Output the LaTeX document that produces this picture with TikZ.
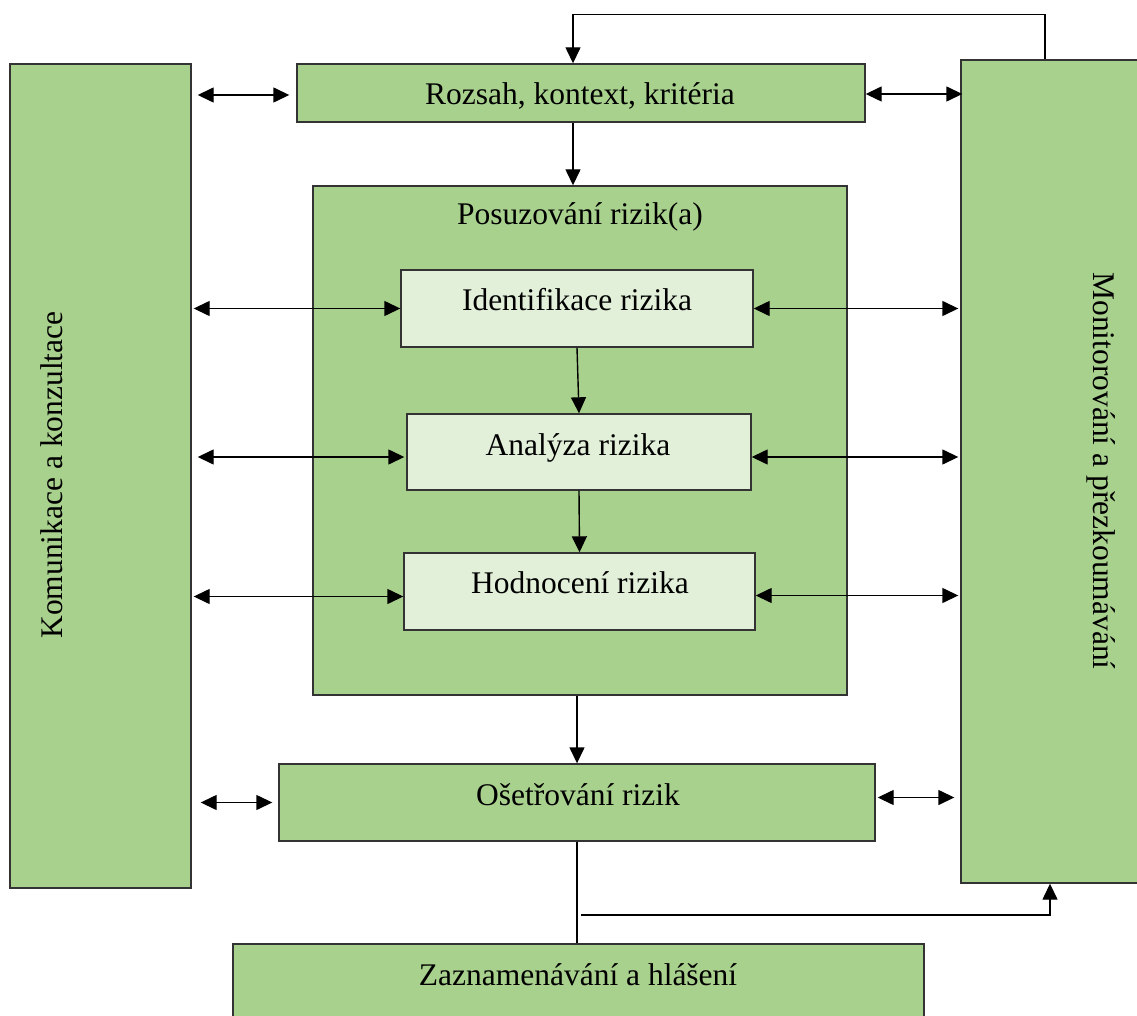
\documentclass[tikz,border=0pt]{standalone}
\usepackage{fontspec}
\setmainfont{Liberation Serif}
\usetikzlibrary{arrows.meta}
\definecolor{boxgreen}{HTML}{A9D18E}
\definecolor{boxlight}{HTML}{E2F0D9}

\begin{document}
\begin{tikzpicture}[x=1pt,y=-1pt,line width=1.4pt,
	>={Triangle[length=16pt,width=15pt]},
	font=\fontsize{31.5}{38}\selectfont,
	box/.style={draw=black!80,fill=boxgreen,rectangle,inner sep=0pt},
	subbox/.style={box,fill=boxlight},
	txt/.style={anchor=base,inner sep=0pt}]
	\useasboundingbox (0,0) rectangle (1137,1016);
	\clip (0,0) rectangle (1137,1016);
	
	%side boxes
	\node[box,minimum width=181pt,minimum height=824pt] (kom) at (100.5,476) {}; %komunikace
	\node[box,minimum width=190pt,minimum height=823pt] (mon) at (1056,471.5) {}; %monitorovani
	\node[txt,rotate=90] (komtxt) at (62,475) {Komunikace a konzultace};
	\node[txt,rotate=-90] (montxt) at (1093,471) {Monitorování a přezkoumávání};
	
	%main boxes
	\node[box,minimum width=568pt,minimum height=58pt] (roz) at (581,93) {};
	\node[txt] (roztxt) at (580,105) {Rozsah, kontext, kritéria};
	\node[box,minimum width=534pt,minimum height=509pt] (pos) at (580,440.5) {};
	\node[txt] (postxt) at (580,225) {Posuzování rizik(a)};
	\node[box,minimum width=596pt,minimum height=77pt] (ose) at (577,802.5) {};
	\node[txt] (osetxt) at (578,805) {Ošetřování rizik};
	\node[box,minimum width=691pt,minimum height=86pt] (zaz) at (578.5,987) {};
	\node[txt] (zaztxt) at (578,985) {Zaznamenávání a hlášení};
	
	%inner boxes
	\node[subbox,minimum width=352pt,minimum height=77pt] (ide) at (577,308.5) {};
	\node[txt] (idetxt) at (577,310) {Identifikace rizika};
	\node[subbox,minimum width=344pt,minimum height=76pt] (ana) at (579,452) {};
	\node[txt] (anatxt) at (578,455) {Analýza rizika};
	\node[subbox,minimum width=351pt,minimum height=77pt] (hod) at (579.5,591.5) {};
	\node[txt] (hodtxt) at (580,593) {Hodnocení rizika};
	
	%flow
	\draw[->] ([xshift=-11pt]mon.north) -- ++(0,-45) -| ([xshift=-8pt]roz.north); %loop back
	\draw[->] ([xshift=-8pt]roz.south) -- ([xshift=-7pt]pos.north);
	\draw[->] (ide.south) -- (ana.north);
	\draw[->] (ana.south) -- (hod.north);
	\draw[->] (ose.north |- pos.south) -- (ose.north);
	\draw (ose.south) -- (ose.south |- zaz.north); %to reporting
	\coordinate (odb) at (581,915);
	\draw[->] (odb) -| ([xshift=-6pt]mon.south); %to monitoring
	
	%communication arrows
	\draw[<->,shorten <=6pt,shorten >=7pt] ([yshift=-2pt]kom.east |- roz.west) -- ([yshift=-2pt]roz.west);
	\draw[<->,shorten <=2pt] (kom.east |- ide.west) -- (ide.west);
	\draw[<->,shorten <=6pt,shorten >=2pt] ([yshift=-5pt]kom.east |- ana.west) -- ([yshift=-5pt]ana.west);
	\draw[<->,shorten <=2pt] ([yshift=-5pt]kom.east |- hod.west) -- ([yshift=-5pt]hod.west);
	\draw[<->,shorten <=9pt,shorten >=6pt] (kom.east |- ose.west) -- (ose.west);
	
	%monitoring arrows
	\draw[<->,shorten >=-2pt] ([yshift=-1pt]roz.east) -- ([yshift=-1pt]mon.west |- roz.east);
	\draw[<->,shorten >=2pt] (ide.east) -- (mon.west |- ide.east);
	\draw[<->,shorten >=2pt] ([yshift=-5pt]ana.east) -- ([yshift=-5pt]mon.west |- ana.east);
	\draw[<->,shorten >=2pt] ([yshift=-4pt]hod.east) -- ([yshift=-4pt]mon.west |- hod.east);
	\draw[<->,shorten <=2pt,shorten >=6pt] ([yshift=5pt]ose.east) -- ([yshift=5pt]mon.west |- ose.east);
	
\end{tikzpicture}
\end{document}
